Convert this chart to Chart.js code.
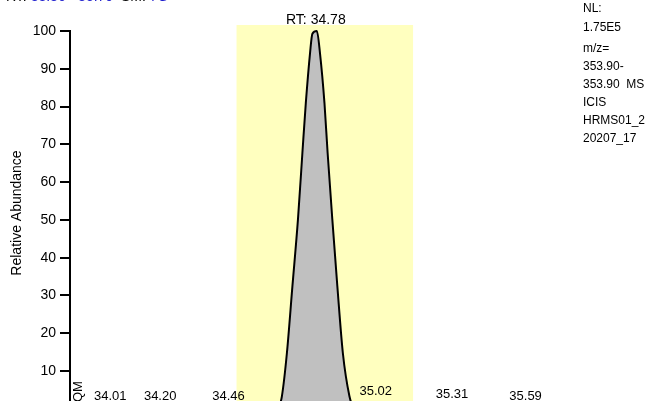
<!DOCTYPE html>
<html>
<head>
<meta charset="utf-8">
<script src="https://cdn.jsdelivr.net/npm/chart.js@4"></script>
<style>
html,body{margin:0;padding:0;background:#fff;overflow:hidden;}
#c{display:block;}
</style>
</head>
<body>
<canvas id="c" width="671" height="401"></canvas>
<script>
// ---- data ----
const retentionTimes = [33.857, 34.62, 34.64, 34.655, 34.663, 34.682, 34.703, 34.724, 34.741, 34.754, 34.770, 34.779, 34.796, 34.808, 34.825, 34.837, 34.855, 34.874, 34.895, 34.920, 34.93, 34.95, 34.98, 35.70];
const relAbundance   = [0,      0,     0.4,   1.2,    3.3,    14.7,   32.4,   50.0,   67.7,   80.9,   94.1,   99.3,   100,    94.1,   80.9,   67.7,   50.0,   32.4,   14.7,   3.3,    1.2,   0.4,   0,     0];
const yTicks = [10, 20, 30, 40, 50, 60, 70, 80, 90, 100];
const smallPeakRT    = [34.01, 34.20, 34.46, 35.02, 35.31, 35.59];
const smallPeakLabel = ["34.01", "34.20", "34.46", "35.02", "35.31", "35.59"];
const smallPeakApex  = [1.8, 1.8, 1.8, 3.0, 2.3, 1.7];
const mainPeakLabel = "RT: 34.78";
const integrationWindow = [34.4905, 35.162];
const rtRange = [33.857, 35.70];
const yRange = [2.06, 101.6];
const infoLines = ["NL:", "1.75E5", "m/z=", "353.90-", "353.90  MS", "ICIS", "HRMS01_2", "20207_17"];
const headerParts = [["RT: ", "#000"], ["33.86 - 35.70", "#1a1acd"], ["  SM: ", "#000"], ["7G", "#1a1acd"]];
const cornerTag = "QM";

const FONT = "Arial, 'Liberation Sans', sans-serif";

const decor = {
  id: 'decor',
  beforeDatasetsDraw(chart) {
    const {ctx, chartArea, scales} = chart;
    const x0 = scales.x.getPixelForValue(integrationWindow[0]);
    const x1 = scales.x.getPixelForValue(integrationWindow[1]);
    ctx.save();
    ctx.fillStyle = '#FFFFBF';
    ctx.fillRect(x0, chartArea.top, x1 - x0, chartArea.bottom - chartArea.top);
    ctx.restore();
  },
  afterDraw(chart) {
    const {ctx, chartArea, scales} = chart;
    const xs = scales.x, ys = scales.y;
    ctx.save();
    // y axis line
    ctx.strokeStyle = '#000';
    ctx.lineWidth = 2;
    ctx.beginPath();
    ctx.moveTo(chartArea.left, ys.getPixelForValue(100) - 1);
    ctx.lineTo(chartArea.left, chartArea.bottom + 2);
    ctx.stroke();

    ctx.fillStyle = '#000';
    ctx.textAlign = 'center';
    ctx.textBaseline = 'alphabetic';
    // main peak label above apex
    let apexI = 0;
    relAbundance.forEach((v, i) => { if (v > relAbundance[apexI]) apexI = i; });
    ctx.font = '14px ' + FONT;
    ctx.fillText(mainPeakLabel, xs.getPixelForValue(retentionTimes[apexI]) - 1, ys.getPixelForValue(relAbundance[apexI]) - 7);
    // small peak labels
    ctx.font = '13px ' + FONT;
    smallPeakRT.forEach((rt, i) => {
      ctx.fillText(smallPeakLabel[i], xs.getPixelForValue(rt), ys.getPixelForValue(smallPeakApex[i]) - 2);
    });
    // rotated tag
    ctx.save();
    ctx.translate(chartArea.left + 12, chartArea.bottom + 1);
    ctx.rotate(-Math.PI / 2);
    ctx.textAlign = 'left';
    ctx.fillText(cornerTag, 0, 0);
    ctx.restore();

    // right info block
    ctx.font = '12px ' + FONT;
    ctx.textAlign = 'left';
    const infoY = [12, 31, 52, 70, 88, 106, 124, 142];
    infoLines.forEach((t, i) => ctx.fillText(t, 583, infoY[i]));

    // header (mostly cut off at the top)
    ctx.font = '14px ' + FONT;
    let hx = 6;
    headerParts.forEach(([t, c]) => {
      ctx.fillStyle = c;
      ctx.fillText(t, hx, 1);
      hx += ctx.measureText(t).width;
    });
    ctx.restore();
  }
};

new Chart(document.getElementById('c'), {
  type: 'line',
  data: {
    datasets: [{
      data: retentionTimes.map((t, i) => ({x: t, y: relAbundance[i]})),
      borderColor: '#000',
      borderWidth: 2,
      backgroundColor: '#C0C0C0',
      fill: 'origin',
      pointRadius: 0,
      cubicInterpolationMode: 'monotone'
    }]
  },
  options: {
    responsive: false,
    animation: false,
    devicePixelRatio: 1,
    layout: {padding: {left: 0, top: 25, right: 116.5, bottom: 0}},
    plugins: {legend: {display: false}, tooltip: {enabled: false}},
    scales: {
      x: {type: 'linear', display: false, min: rtRange[0], max: rtRange[1]},
      y: {
        min: yRange[0], max: yRange[1],
        afterBuildTicks(scale) { scale.ticks = yTicks.map(v => ({value: v})); },
        afterFit(scale) { scale.width = 70; scale.paddingTop = 0; scale.paddingBottom = 0; },
        ticks: {font: {size: 14, family: FONT}, color: '#000', padding: 4},
        grid: {drawOnChartArea: false, drawTicks: true, tickLength: 10, tickColor: '#000', tickWidth: 2, color: '#000', lineWidth: 2},
        border: {display: false},
        title: {display: true, text: 'Relative Abundance', font: {size: 14, family: FONT}, color: '#000', padding: {top: 9, bottom: 0}}
      }
    }
  },
  plugins: [decor]
});
</script>
</body>
</html>
